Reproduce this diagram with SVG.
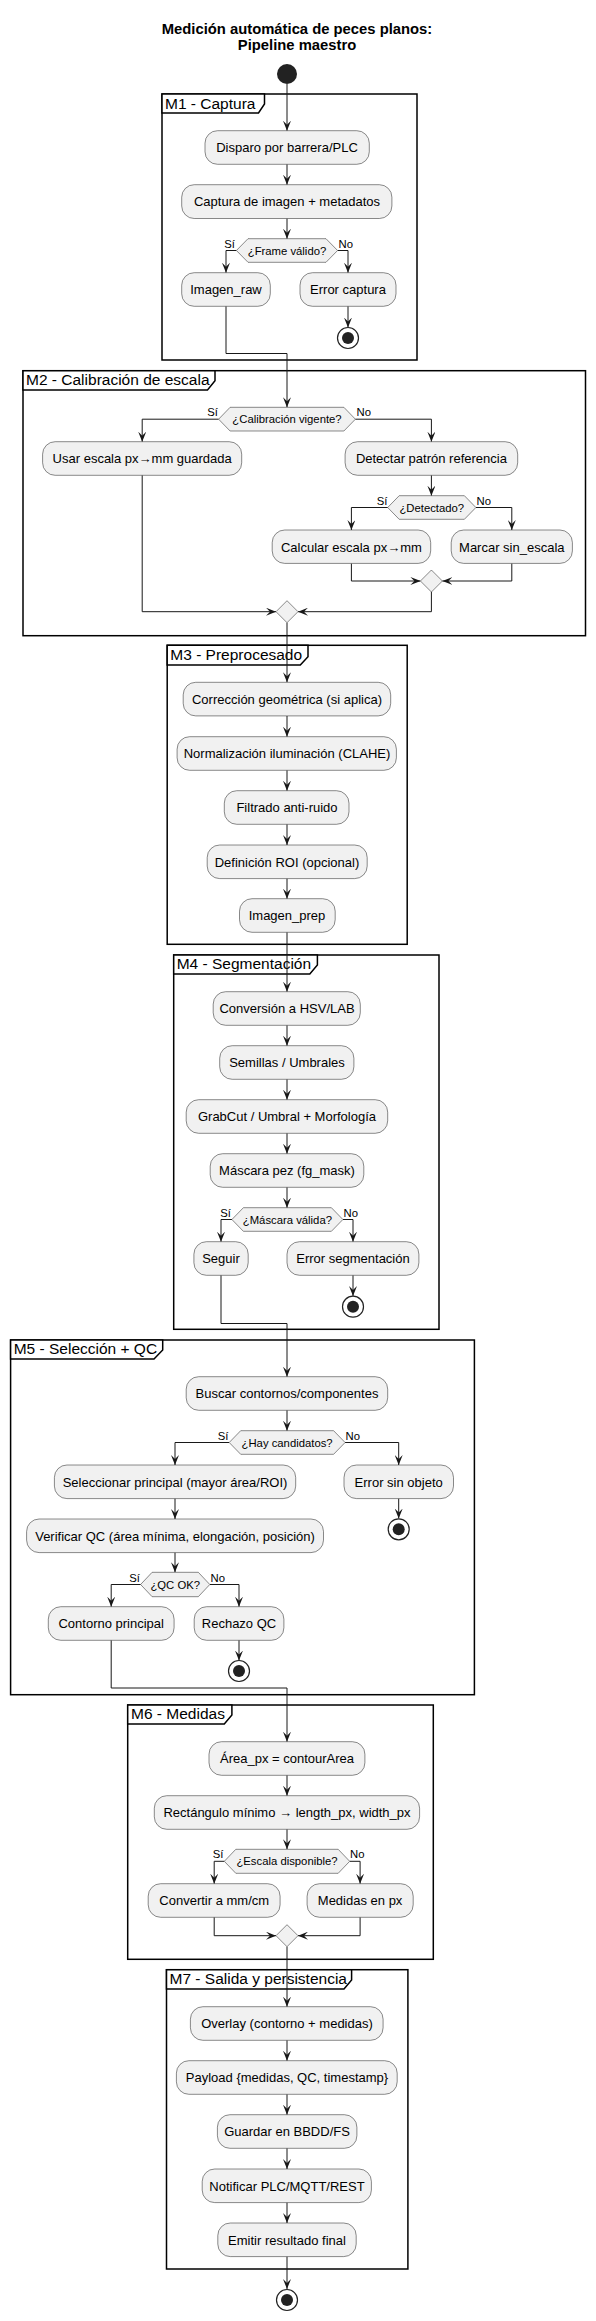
<svg xmlns="http://www.w3.org/2000/svg" width="596" height="2321" viewBox="0 0 596 2321">
<defs>
<marker id="ah" viewBox="0 0 10 8" refX="10" refY="4" markerWidth="10" markerHeight="8" markerUnits="userSpaceOnUse" orient="auto">
<path d="M0,0 L10,4 L0,8 L4,4 Z" fill="#181818"/>
</marker>
<style>
.t{font-family:"Liberation Sans",Arial,sans-serif;fill:#000}
.title{font-size:14.8px;font-weight:bold;text-anchor:middle}
.ft{font-size:15.5px}
.n{font-size:13px;text-anchor:middle}
.d{font-size:11.3px;text-anchor:middle}
.lbl{font-size:11.3px}
.e{text-anchor:end}
.box{fill:#F1F1F1;stroke:#181818;stroke-width:0.5}
.frame{fill:none;stroke:#000;stroke-width:1.5}
.tab{fill:#fff;stroke:#000;stroke-width:1.5}
.c{fill:none;stroke:#181818;stroke-width:1;marker-end:url(#ah)}
.cn{fill:none;stroke:#181818;stroke-width:1}
.start{fill:#222}
.stopo{fill:#fff;stroke:#222;stroke-width:1.2}
.stopi{fill:#222}
</style>
</defs>
<rect width="596" height="2321" fill="#fff"/>
<text class="t title" x="297" y="33.5">Medición automática de peces planos:</text>
<text class="t title" x="297" y="49.5">Pipeline maestro</text>

<g id="frames">
<g id="M1"><rect class="frame" x="162" y="94" width="255" height="266"/><path class="tab" d="M162,113 H258.5 L264.5,104 V94 H162 Z"/><text class="t ft" x="165" y="109">M1 - Captura</text></g>
<g id="M2"><rect class="frame" x="23" y="370.7" width="562.5" height="265"/><path class="tab" d="M23,390 H207.5 L215,380.7 V370.7 H23 Z"/><text class="t ft" x="26" y="385">M2 - Calibración de escala</text></g>
<g id="M3"><rect class="frame" x="167.2" y="645.3" width="240" height="299"/><path class="tab" d="M167.2,665 H300.3 L308,656.7 V645.3 H167.2 Z"/><text class="t ft" x="170.3" y="660">M3 - Preprocesado</text></g>
<g id="M4"><rect class="frame" x="173.7" y="955" width="265.3" height="374.3"/><path class="tab" d="M173.7,974 H309.8 L317.4,965 V955 H173.7 Z"/><text class="t ft" x="176.7" y="969">M4 - Segmentación</text></g>
<g id="M5"><rect class="frame" x="10.6" y="1340" width="463.8" height="354.7"/><path class="tab" d="M10.6,1359 H154 L162.7,1350 V1340 H10.6 Z"/><text class="t ft" x="13.7" y="1354">M5 - Selección + QC</text></g>
<g id="M6"><rect class="frame" x="127.7" y="1705" width="305.6" height="254.3"/><path class="tab" d="M127.7,1724 H224.3 L231.9,1715 V1705 H127.7 Z"/><text class="t ft" x="131" y="1719">M6 - Medidas</text></g>
<g id="M7"><rect class="frame" x="166.5" y="1969.7" width="241.4" height="299.3"/><path class="tab" d="M166.5,1989 H344 L351.6,1980 V1969.7 H166.5 Z"/><text class="t ft" x="169.5" y="1984">M7 - Salida y persistencia</text></g>
</g>

<g id="connectors">
<path class="c" d="M287,84 V130.7"/>
<path class="c" d="M287,164.3 V184.7"/>
<path class="c" d="M287,218.5 V238.7"/>
<path class="c" d="M236.4,250.5 H226 V272.7"/>
<path class="c" d="M337.6,250.5 H348 V272.7"/>
<path class="c" d="M348,306.3 V327.5"/>
<path class="c" d="M226,306.3 V353.5 H287 V407.3"/>
<path class="c" d="M218.6,419.2 H142.2 V441.7"/>
<path class="c" d="M355.4,419.2 H431.4 V441.7"/>
<path class="c" d="M431.4,475.3 V495.7"/>
<path class="c" d="M387.7,507.5 H351.4 V530"/>
<path class="c" d="M475.9,507.5 H511.8 V530"/>
<path class="c" d="M351.4,563.4 V581 H420.4"/>
<path class="c" d="M511.8,563.4 V581 H442.4"/>
<path class="c" d="M431.4,592 V611.7 H298"/>
<path class="c" d="M142.2,475.3 V611.7 H276"/>
<path class="c" d="M287,622.7 V682.3"/>
<path class="c" d="M287,715.9 V736.7"/>
<path class="c" d="M287,770.3 V790.7"/>
<path class="c" d="M287,824.3 V845"/>
<path class="c" d="M287,878.6 V898.7"/>
<path class="c" d="M287,932.3 V991.7"/>
<path class="c" d="M287,1025.3 V1045.7"/>
<path class="c" d="M287,1079.3 V1099.7"/>
<path class="c" d="M287,1133.3 V1153.7"/>
<path class="c" d="M287,1187.3 V1207.7"/>
<path class="c" d="M231.9,1219.5 H221 V1241.7"/>
<path class="c" d="M342.9,1219.5 H353 V1241.7"/>
<path class="c" d="M353,1275.3 V1296"/>
<path class="c" d="M221,1275.3 V1323.5 H287 V1376.7"/>
<path class="c" d="M287,1410.3 V1430.7"/>
<path class="c" d="M229.2,1442.5 H175 V1465"/>
<path class="c" d="M345.1,1442.5 H398.7 V1465"/>
<path class="c" d="M398.7,1498.6 V1518.5"/>
<path class="c" d="M175,1498.6 V1519"/>
<path class="c" d="M175,1552.6 V1572.3"/>
<path class="c" d="M140.6,1584.5 H111.2 V1606.7"/>
<path class="c" d="M209.8,1584.5 H239 V1606.7"/>
<path class="c" d="M239,1640.3 V1660.5"/>
<path class="c" d="M111.2,1640.3 V1688 H287 V1741.7"/>
<path class="c" d="M287,1775.3 V1795.7"/>
<path class="c" d="M287,1829.3 V1849.3"/>
<path class="c" d="M224.3,1861.3 H214.2 V1883.7"/>
<path class="c" d="M349.7,1861.3 H360.1 V1883.7"/>
<path class="c" d="M214.2,1917.3 V1935.7 H276"/>
<path class="c" d="M360.1,1917.3 V1935.7 H298"/>
<path class="c" d="M287,1946.7 V2006.7"/>
<path class="c" d="M287,2040.3 V2060.7"/>
<path class="c" d="M287,2094.3 V2114.7"/>
<path class="c" d="M287,2148.3 V2169"/>
<path class="c" d="M287,2202.6 V2223"/>
<path class="c" d="M287,2256.6 V2289"/>
</g>

<g id="labels">
<text class="t lbl e" x="235" y="248">Sí</text><text class="t lbl" x="338.5" y="248">No</text>
<text class="t lbl e" x="218" y="416">Sí</text><text class="t lbl" x="356.5" y="416">No</text>
<text class="t lbl e" x="387.5" y="504.5">Sí</text><text class="t lbl" x="476.5" y="504.5">No</text>
<text class="t lbl e" x="231" y="1216.5">Sí</text><text class="t lbl" x="343.5" y="1216.5">No</text>
<text class="t lbl e" x="228.5" y="1439.5">Sí</text><text class="t lbl" x="345.5" y="1439.5">No</text>
<text class="t lbl e" x="140" y="1581.5">Sí</text><text class="t lbl" x="210.5" y="1581.5">No</text>
<text class="t lbl e" x="223.5" y="1858.3">Sí</text><text class="t lbl" x="350" y="1858.3">No</text>
</g>

<g id="start"><circle class="start" cx="287" cy="74" r="10"/></g>

<g id="disparo"><rect class="box" x="205" y="130.7" width="164.3" height="33.6" rx="12.5"/><text class="t n" x="287" y="152.3">Disparo por barrera/PLC</text></g>
<g id="captura"><rect class="box" x="181.7" y="184.7" width="210.2" height="33.8" rx="12.5"/><text class="t n" x="287" y="206.3">Captura de imagen + metadatos</text></g>
<g id="dec_frame"><polygon class="box" points="236.4,250.5 248,238.7 326,238.7 337.6,250.5 326,262.3 248,262.3"/><text class="t d" x="287" y="254.5">¿Frame válido?</text></g>
<g id="imagen_raw"><rect class="box" x="181.7" y="272.7" width="88.6" height="33.6" rx="12.5"/><text class="t n" x="226" y="294.3">Imagen_raw</text></g>
<g id="error_captura"><rect class="box" x="300" y="272.7" width="96" height="33.6" rx="12.5"/><text class="t n" x="348" y="294.3">Error captura</text></g>
<g id="stop1"><circle class="stopo" cx="348" cy="338" r="10.5"/><circle class="stopi" cx="348" cy="338" r="6"/></g>

<g id="dec_cal"><polygon class="box" points="218.6,419.2 230.1,407.3 343.9,407.3 355.4,419.2 343.9,431 230.1,431"/><text class="t d" x="287" y="423.3">¿Calibración vigente?</text></g>
<g id="usar_escala"><rect class="box" x="42.6" y="441.7" width="199.1" height="33.6" rx="12.5"/><text class="t n" x="142.2" y="463.3">Usar escala px→mm guardada</text></g>
<g id="detectar"><rect class="box" x="345.1" y="441.7" width="172.6" height="33.6" rx="12.5"/><text class="t n" x="431.4" y="463.3">Detectar patrón referencia</text></g>
<g id="dec_det"><polygon class="box" points="387.7,507.5 399.2,495.7 464.4,495.7 475.9,507.5 464.4,519.3 399.2,519.3"/><text class="t d" x="431.8" y="511.5">¿Detectado?</text></g>
<g id="calcular"><rect class="box" x="272.2" y="530" width="158.5" height="33.4" rx="12.5"/><text class="t n" x="351.4" y="551.5">Calcular escala px→mm</text></g>
<g id="marcar"><rect class="box" x="451.2" y="530" width="121.2" height="33.4" rx="12.5"/><text class="t n" x="511.8" y="551.5">Marcar sin_escala</text></g>
<g id="merge1"><polygon class="box" points="431.4,570 442.4,581 431.4,592 420.4,581"/></g>
<g id="merge2"><polygon class="box" points="287,600.7 298,611.7 287,622.7 276,611.7"/></g>

<g id="correccion"><rect class="box" x="183.2" y="682.3" width="207.5" height="33.6" rx="12.5"/><text class="t n" x="287" y="703.9">Corrección geométrica (si aplica)</text></g>
<g id="normalizacion"><rect class="box" x="177.1" y="736.7" width="219.3" height="33.6" rx="12.5"/><text class="t n" x="287" y="758.3">Normalización iluminación (CLAHE)</text></g>
<g id="filtrado"><rect class="box" x="224.3" y="790.7" width="124.7" height="33.6" rx="12.5"/><text class="t n" x="287" y="812.3">Filtrado anti-ruido</text></g>
<g id="roi"><rect class="box" x="207.2" y="845" width="160" height="33.6" rx="12.5"/><text class="t n" x="287" y="866.6">Definición ROI (opcional)</text></g>
<g id="imagen_prep"><rect class="box" x="239.5" y="898.7" width="95.7" height="33.6" rx="12.5"/><text class="t n" x="287" y="920.3">Imagen_prep</text></g>

<g id="conversion"><rect class="box" x="213.2" y="991.7" width="147.1" height="33.6" rx="12.5"/><text class="t n" x="287" y="1013.3">Conversión a HSV/LAB</text></g>
<g id="semillas"><rect class="box" x="219.7" y="1045.7" width="134.2" height="33.6" rx="12.5"/><text class="t n" x="287" y="1067.3">Semillas / Umbrales</text></g>
<g id="grabcut"><rect class="box" x="186.2" y="1099.7" width="201.5" height="33.6" rx="12.5"/><text class="t n" x="287" y="1121.3">GrabCut / Umbral + Morfología</text></g>
<g id="mascara"><rect class="box" x="210.2" y="1153.7" width="153.6" height="33.6" rx="12.5"/><text class="t n" x="287" y="1175.3">Máscara pez (fg_mask)</text></g>
<g id="dec_mask"><polygon class="box" points="231.9,1219.5 243.4,1207.7 331.4,1207.7 342.9,1219.5 331.4,1231.3 243.4,1231.3"/><text class="t d" x="287.4" y="1223.5">¿Máscara válida?</text></g>
<g id="seguir"><rect class="box" x="193.9" y="1241.7" width="54.3" height="33.6" rx="12.5"/><text class="t n" x="221" y="1263.3">Seguir</text></g>
<g id="error_seg"><rect class="box" x="287" y="1241.7" width="131.9" height="33.6" rx="12.5"/><text class="t n" x="353" y="1263.3">Error segmentación</text></g>
<g id="stop2"><circle class="stopo" cx="353" cy="1306.7" r="10.5"/><circle class="stopi" cx="353" cy="1306.7" r="6"/></g>

<g id="buscar"><rect class="box" x="186.2" y="1376.7" width="201.5" height="33.6" rx="12.5"/><text class="t n" x="287" y="1398.3">Buscar contornos/componentes</text></g>
<g id="dec_cand"><polygon class="box" points="229.2,1442.5 240.7,1430.7 333.6,1430.7 345.1,1442.5 333.6,1454.3 240.7,1454.3"/><text class="t d" x="287.1" y="1446.5">¿Hay candidatos?</text></g>
<g id="seleccionar"><rect class="box" x="54.4" y="1465" width="241.3" height="33.6" rx="12.5"/><text class="t n" x="175" y="1486.6">Seleccionar principal (mayor área/ROI)</text></g>
<g id="error_obj"><rect class="box" x="344" y="1465" width="109.5" height="33.6" rx="12.5"/><text class="t n" x="398.7" y="1486.6">Error sin objeto</text></g>
<g id="stop3"><circle class="stopo" cx="398.7" cy="1529.3" r="10.5"/><circle class="stopi" cx="398.7" cy="1529.3" r="6"/></g>
<g id="verificar"><rect class="box" x="26.6" y="1519" width="296.9" height="33.6" rx="12.5"/><text class="t n" x="175" y="1540.6">Verificar QC (área mínima, elongación, posición)</text></g>
<g id="dec_qc"><polygon class="box" points="140.6,1584.5 152.1,1572.3 198.3,1572.3 209.8,1584.5 198.3,1596.7 152.1,1596.7"/><text class="t d" x="175.2" y="1588.5">¿QC OK?</text></g>
<g id="contorno"><rect class="box" x="48.3" y="1606.7" width="125.8" height="33.6" rx="12.5"/><text class="t n" x="111.2" y="1628.3">Contorno principal</text></g>
<g id="rechazo"><rect class="box" x="194.2" y="1606.7" width="89.7" height="33.6" rx="12.5"/><text class="t n" x="239" y="1628.3">Rechazo QC</text></g>
<g id="stop4"><circle class="stopo" cx="239" cy="1671" r="10.5"/><circle class="stopi" cx="239" cy="1671" r="6"/></g>

<g id="area"><rect class="box" x="209" y="1741.7" width="155.9" height="33.6" rx="12.5"/><text class="t n" x="287" y="1763.3">Área_px = contourArea</text></g>
<g id="rectangulo"><rect class="box" x="154.3" y="1795.7" width="265.3" height="33.6" rx="12.5"/><text class="t n" x="287" y="1817.3">Rectángulo mínimo → length_px, width_px</text></g>
<g id="dec_escala"><polygon class="box" points="224.3,1861.3 235.8,1849.3 338.2,1849.3 349.7,1861.3 338.2,1873.3 235.8,1873.3"/><text class="t d" x="287" y="1865.3">¿Escala disponible?</text></g>
<g id="convertir"><rect class="box" x="148.2" y="1883.7" width="131.9" height="33.6" rx="12.5"/><text class="t n" x="214.2" y="1905.3">Convertir a mm/cm</text></g>
<g id="medidas_px"><rect class="box" x="307.1" y="1883.7" width="106.1" height="33.6" rx="12.5"/><text class="t n" x="360.1" y="1905.3">Medidas en px</text></g>
<g id="merge3"><polygon class="box" points="287,1924.7 298,1935.7 287,1946.7 276,1935.7"/></g>

<g id="overlay"><rect class="box" x="190.4" y="2006.7" width="192.7" height="33.6" rx="12.5"/><text class="t n" x="287" y="2028.3">Overlay (contorno + medidas)</text></g>
<g id="payload"><rect class="box" x="176.4" y="2060.7" width="220.8" height="33.6" rx="12.5"/><text class="t n" x="287" y="2082.3">Payload {medidas, QC, timestamp}</text></g>
<g id="guardar"><rect class="box" x="217.4" y="2114.7" width="139.5" height="33.6" rx="12.5"/><text class="t n" x="287" y="2136.3">Guardar en BBDD/FS</text></g>
<g id="notificar"><rect class="box" x="202.2" y="2169" width="169.2" height="33.6" rx="12.5"/><text class="t n" x="287" y="2190.6">Notificar PLC/MQTT/REST</text></g>
<g id="emitir"><rect class="box" x="217.8" y="2223" width="138.4" height="33.6" rx="12.5"/><text class="t n" x="287" y="2244.6">Emitir resultado final</text></g>
<g id="stop_final"><circle class="stopo" cx="287" cy="2300" r="10.5"/><circle class="stopi" cx="287" cy="2300" r="6"/></g>
</svg>
